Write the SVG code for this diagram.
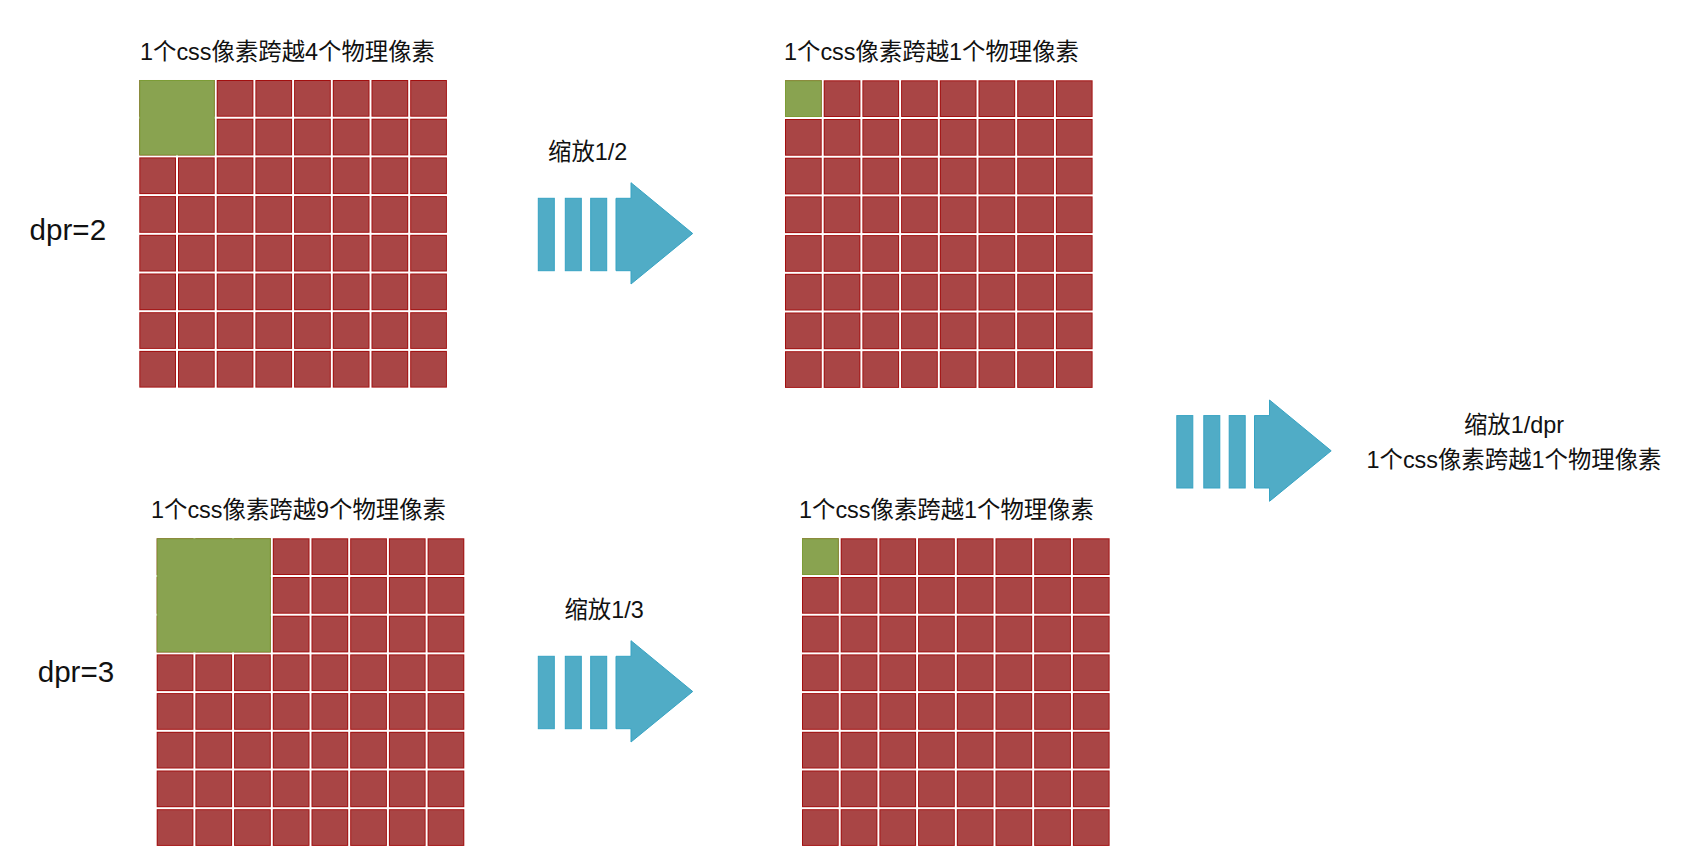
<svg xmlns="http://www.w3.org/2000/svg" xmlns:xlink="http://www.w3.org/1999/xlink" width="1690" height="866" viewBox="0 0 1690 866">
<style>
.t{font-family:"Liberation Sans","Noto Sans CJK SC",sans-serif;fill:#111;font-size:23.4px}
.d{font-family:"Liberation Sans","Noto Sans CJK SC",sans-serif;fill:#111;font-size:29.6px}
.green{fill:#89A350;stroke:#7C9C36;stroke-width:1}
.arrow{fill:#50ACC6;stroke:#36A3C3;stroke-width:1}
</style>
<defs>
<pattern id="cells" x="0" y="0" width="38.7" height="38.7" patternUnits="userSpaceOnUse">
<rect x="1.5" y="1.5" width="35.7" height="35.7" fill="#A94545" stroke="#A20E0E" stroke-width="1"/>
</pattern>
<g id="arr">
<rect class="arrow" x="538.3" y="198.3" width="16" height="72.4"/>
<rect class="arrow" x="565.3" y="198.3" width="16" height="72.4"/>
<rect class="arrow" x="590.7" y="198.3" width="16" height="72.4"/>
<polygon class="arrow" points="616,198.3 631,198.3 631,182.7 692.7,233.5 631,284 631,270.7 616,270.7"/>
</g>
</defs>
<rect width="1690" height="866" fill="#fff"/>

<g id="grid-dpr2">
<text class="t" x="140" y="59.5">1个css像素跨越4个物理像素</text>
<g transform="translate(138.3,79)">
<rect x="0" y="0" width="309.6" height="309.6" fill="url(#cells)"/>
<rect class="green" x="1.5" y="1.5" width="74.4" height="74.4"/>
</g>
</g>

<g id="grid-dpr2-scaled">
<text class="t" x="784" y="59.5">1个css像素跨越1个物理像素</text>
<g transform="translate(784,79.3)">
<rect x="0" y="0" width="309.6" height="309.6" fill="url(#cells)"/>
<rect class="green" x="1.5" y="1.5" width="35.7" height="35.7"/>
</g>
</g>

<g id="grid-dpr3">
<text class="t" x="151" y="518">1个css像素跨越9个物理像素</text>
<g transform="translate(155.7,537.3)">
<rect x="0" y="0" width="309.6" height="309.6" fill="url(#cells)"/>
<rect class="green" x="1.5" y="1.5" width="113.1" height="113.1"/>
</g>
</g>

<g id="grid-dpr3-scaled">
<text class="t" x="799" y="518">1个css像素跨越1个物理像素</text>
<g transform="translate(801,537.3)">
<rect x="0" y="0" width="309.6" height="309.6" fill="url(#cells)"/>
<rect class="green" x="1.5" y="1.5" width="35.7" height="35.7"/>
</g>
</g>

<g id="label-dpr2"><text class="d" x="29.6" y="240">dpr=2</text></g>
<g id="label-dpr3"><text class="d" x="37.7" y="682">dpr=3</text></g>

<g id="result">
<text class="t" x="1514" y="433" text-anchor="middle">缩放1/dpr</text>
<text class="t" x="1514" y="468" text-anchor="middle">1个css像素跨越1个物理像素</text>
</g>

<g id="connectors">
<use xlink:href="#arr"/>
<text class="t" x="548" y="159.5">缩放1/2</text>
<use xlink:href="#arr" transform="translate(0,458)"/>
<text class="t" x="564.4" y="617.5">缩放1/3</text>
<use xlink:href="#arr" transform="translate(638.5,217.3)"/>
</g>
</svg>
